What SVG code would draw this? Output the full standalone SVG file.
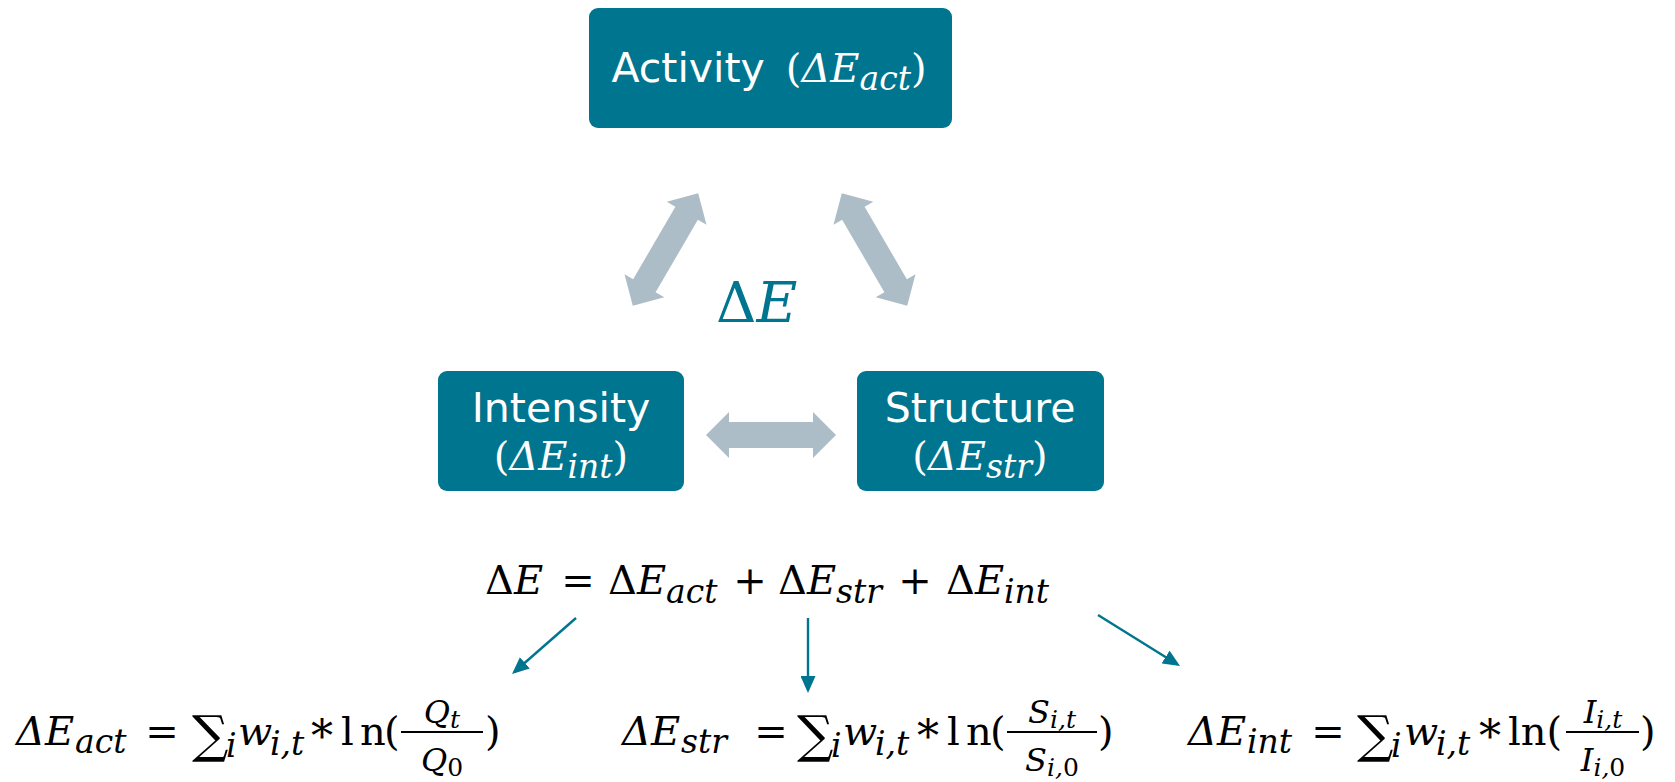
<svg xmlns="http://www.w3.org/2000/svg" width="1675" height="782" viewBox="0 0 1675 782">
<style>
.box{fill:#00758F}
.lbl{font-family:"DejaVu Sans","Verdana",sans-serif;font-size:41px;fill:#fff}
.bm{font-family:"DejaVu Serif","Liberation Serif",serif;font-size:40px}
.it{font-style:italic}
.sub{font-size:33px;font-style:italic}
.eq{font-family:"DejaVu Serif","Liberation Serif",serif;font-size:40px;fill:#000}
.sig{font-size:51px}
.ast{font-size:44px}
.fr{font-size:32px}
.frs{font-size:25px}
.big{font-family:"DejaVu Serif","Liberation Serif",serif;font-size:56px;fill:#00758F}
.dbl{fill:#ADBDC7}
.conn{stroke:#00758F;stroke-width:2.4;fill:none}
.bar{stroke:#000;stroke-width:2}
</style>
<defs>
<polygon id="dblArrow" points="-65,0 -42,-23 -42,-13 42,-13 42,-23 65,0 42,23 42,13 -42,13 -42,23"/>
<marker id="ah" viewBox="0 0 17 15" refX="14" refY="7.5" markerWidth="17" markerHeight="15" markerUnits="userSpaceOnUse" orient="auto">
<path d="M0,0 L17,7.5 L0,15 Z" fill="#00758F"/>
</marker>
</defs>

<g id="activity">
<rect class="box" x="589" y="8" width="363" height="120" rx="9"/>
<text x="769" y="82" text-anchor="middle" class="lbl">Activity <tspan class="bm" dx="8">(</tspan><tspan class="bm it">ΔE</tspan><tspan class="bm sub" dy="8">act</tspan><tspan class="bm" dy="-8">)</tspan></text>
</g>

<g id="intensity">
<rect class="box" x="438" y="371" width="246" height="120" rx="9"/>
<text x="561" y="422" text-anchor="middle" class="lbl">Intensity</text>
<text x="561" y="470" text-anchor="middle" class="bm" fill="#fff">(<tspan class="it">ΔE</tspan><tspan class="sub" dy="8">int</tspan><tspan dy="-8">)</tspan></text>
</g>

<g id="structure">
<rect class="box" x="857" y="371" width="247" height="120" rx="9"/>
<text x="980" y="422" text-anchor="middle" class="lbl">Structure</text>
<text x="980" y="470" text-anchor="middle" class="bm" fill="#fff">(<tspan class="it">ΔE</tspan><tspan class="sub" dy="8">str</tspan><tspan dy="-8">)</tspan></text>
</g>

<g id="total">
<text x="716" y="322" class="big">Δ<tspan class="it">E</tspan></text>
</g>

<g id="connectors">
<use href="#dblArrow" class="dbl" transform="translate(665.5,249.5) rotate(-59.8)"/>
<use href="#dblArrow" class="dbl" transform="translate(874.5,249.5) rotate(59.8)"/>
<use href="#dblArrow" class="dbl" transform="translate(771,435)"/>
<line class="conn" x1="576" y1="618" x2="514.3" y2="672" marker-end="url(#ah)"/>
<line class="conn" x1="808" y1="618" x2="808" y2="690" marker-end="url(#ah)"/>
<line class="conn" x1="1098" y1="615" x2="1177.5" y2="664.4" marker-end="url(#ah)"/>
</g>

<g id="eq-main" class="eq">
<text x="485" y="594">Δ</text>
<text x="514" y="594" class="it">E</text>
<text x="578" y="594" text-anchor="middle">=</text>
<text x="608" y="594">Δ</text>
<text x="637" y="594" class="it">E</text>
<text x="666" y="603" class="sub">act</text>
<text x="750" y="594" text-anchor="middle">+</text>
<text x="778" y="594">Δ</text>
<text x="807" y="594" class="it">E</text>
<text x="836" y="603" class="sub">str</text>
<text x="915" y="594" text-anchor="middle">+</text>
<text x="946" y="594">Δ</text>
<text x="975" y="594" class="it">E</text>
<text x="1004" y="603" class="sub">int</text>
</g>

<g id="eq-act" class="eq">
<text x="16" y="745" class="it">ΔE</text>
<text x="75" y="753" class="sub">act</text>
<text x="162" y="745" text-anchor="middle">=</text>
<text x="192" y="752" class="sig">∑</text>
<text x="226" y="757" class="sub">i</text>
<text x="238" y="745" class="it">w</text>
<text x="270" y="755" class="sub">i,t</text>
<text x="322" y="752" text-anchor="middle" class="ast">*</text>
<text x="341" y="745">l</text>
<text x="360" y="745">n</text>
<text x="384" y="745">(</text>
<line class="bar" x1="401" y1="732" x2="483" y2="732"/>
<text x="442" y="723" text-anchor="middle" class="fr"><tspan class="it">Q</tspan><tspan class="it frs" dy="5">t</tspan></text>
<text x="442" y="771" text-anchor="middle" class="fr"><tspan class="it">Q</tspan><tspan class="frs" dy="5">0</tspan></text>
<text x="485" y="745">)</text>
</g>

<g id="eq-str" class="eq">
<text x="622" y="745" class="it">ΔE</text>
<text x="681" y="753" class="sub">str</text>
<text x="771" y="745" text-anchor="middle">=</text>
<text x="797" y="752" class="sig">∑</text>
<text x="831" y="757" class="sub">i</text>
<text x="843" y="745" class="it">w</text>
<text x="875" y="755" class="sub">i,t</text>
<text x="928" y="752" text-anchor="middle" class="ast">*</text>
<text x="947" y="745">l</text>
<text x="966" y="745">n</text>
<text x="990" y="745">(</text>
<line class="bar" x1="1007" y1="732" x2="1097" y2="732"/>
<text x="1052" y="723" text-anchor="middle" class="fr"><tspan class="it">S</tspan><tspan class="it frs" dy="5">i,t</tspan></text>
<text x="1052" y="771" text-anchor="middle" class="fr"><tspan class="it">S</tspan><tspan class="it frs" dy="5">i,</tspan><tspan class="frs">0</tspan></text>
<text x="1098" y="745">)</text>
</g>

<g id="eq-int" class="eq">
<text x="1188" y="745" class="it">ΔE</text>
<text x="1247" y="753" class="sub">int</text>
<text x="1328" y="745" text-anchor="middle">=</text>
<text x="1357" y="752" class="sig">∑</text>
<text x="1391" y="757" class="sub">i</text>
<text x="1404" y="745" class="it">w</text>
<text x="1436" y="755" class="sub">i,t</text>
<text x="1490" y="752" text-anchor="middle" class="ast">*</text>
<text x="1508" y="745">ln(</text>
<line class="bar" x1="1566" y1="732" x2="1639" y2="732"/>
<text x="1603" y="723" text-anchor="middle" class="fr"><tspan class="it">I</tspan><tspan class="it frs" dy="5">i,t</tspan></text>
<text x="1603" y="771" text-anchor="middle" class="fr"><tspan class="it">I</tspan><tspan class="it frs" dy="5">i,</tspan><tspan class="frs">0</tspan></text>
<text x="1640" y="745">)</text>
</g>
</svg>
